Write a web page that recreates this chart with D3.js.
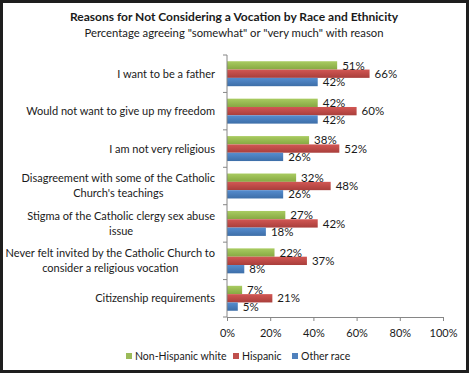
<!DOCTYPE html>
<html>
<head>
<meta charset="utf-8">
<script src="https://cdn.jsdelivr.net/npm/d3@7"></script>
<style>
  body { margin: 0; background: #fff; }
  text { font-family: Lato, "Open Sans", sans-serif; fill: #1a1a1a; }
</style>
</head>
<body>
<div id="chart-area"></div>
<script>
// data
let categories = [
  ["I want to be a father"],
  ["Would not want to give up my freedom"],
  ["I am not very religious"],
  ["Disagreement with some of the Catholic", "Church's teachings"],
  ["Stigma of the Catholic clergy sex abuse", "issue"],
  ["Never felt invited by the Catholic Church to", "consider a religious vocation"],
  ["Citizenship requirements"]
];
let seriesNames = ["Non-Hispanic white", "Hispanic", "Other race"];
let white    = [51, 42, 38, 32, 27, 22, 7];
let hispanic = [66, 60, 52, 48, 42, 37, 21];
let other    = [42, 42, 26, 26, 18, 8, 5];
let xTicks = [0, 20, 40, 60, 80, 100];

let colors = ["#9bbb59", "#c0504d", "#4f81bd"];
let darker = ["#86a842", "#a93e3b", "#3d6ea8"];

let W = 470, H = 374;
let m = {top: 55, right: 27, bottom: 57, left: 227};
let w = W - m.left - m.right;
let h = H - m.top - m.bottom;

let svg = d3.select("#chart-area")
    .append("svg")
    .attr("width", W)
    .attr("height", H);

// gradients like the excel bars
let defs = svg.append("defs");
colors.forEach(function(c, i) {
  let gr = defs.append("linearGradient")
      .attr("id", "grad" + i)
      .attr("x1", 0).attr("y1", 0).attr("x2", 0).attr("y2", 1);
  gr.append("stop").attr("offset", "0%").attr("stop-color", d3.color(c).brighter(0.25));
  gr.append("stop").attr("offset", "100%").attr("stop-color", darker[i]);
});

// frame
svg.append("rect")
    .attr("x", 1.5).attr("y", 1.5)
    .attr("width", W - 4).attr("height", H - 4)
    .attr("fill", "none")
    .attr("stroke", "#1e1e1e")
    .attr("stroke-width", 3);

// titles
svg.append("text")
    .attr("x", 234).attr("y", 21)
    .attr("text-anchor", "middle")
    .attr("font-size", "12px")
    .attr("font-weight", "bold")
    .text("Reasons for Not Considering a Vocation by Race and Ethnicity");
svg.append("text")
    .attr("x", 234).attr("y", 37)
    .attr("text-anchor", "middle")
    .attr("font-size", "11.3px")
    .text("Percentage agreeing \"somewhat\" or \"very much\" with reason");

let g = svg.append("g")
    .attr("transform", "translate(" + m.left + "," + m.top + ")");

// scales
let x = d3.scaleLinear().domain([0, 100]).range([0, w]);
let y = d3.scaleBand()
    .domain(d3.range(categories.length))
    .range([0, h]);
let ys = d3.scaleBand()
    .domain(d3.range(seriesNames.length))
    .range([0, y.bandwidth()])
    .paddingInner(0)
    .paddingOuter(0.75);

let series = [white, hispanic, other];
let rows = [];
categories.forEach(function(c, i) {
  series.forEach(function(s, j) {
    rows.push({cat: i, ser: j, value: s[i]});
  });
});

// bars
g.selectAll("rect.bar")
    .data(rows)
    .enter()
    .append("rect")
      .attr("class", "bar")
      .attr("x", 0)
      .attr("y", function(d) { return y(d.cat) + ys(d.ser); })
      .attr("width", function(d) { return x(d.value); })
      .attr("height", ys.bandwidth())
      .attr("fill", function(d) { return "url(#grad" + d.ser + ")"; });

// value labels
g.selectAll("text.val")
    .data(rows)
    .enter()
    .append("text")
      .attr("class", "val")
      .attr("x", function(d) { return x(d.value) + 5; })
      .attr("y", function(d) { return y(d.cat) + ys(d.ser) + ys.bandwidth() / 2; })
      .attr("dy", "0.36em")
      .attr("font-size", "11.5px")
      .attr("fill", "#333")
      .text(function(d) { return d.value + "%"; });

// x axis
let xAxisCall = d3.axisBottom(x)
    .tickValues(xTicks)
    .tickSize(4)
    .tickFormat(function(d) { return d + "%"; });
let xg = g.append("g")
    .attr("transform", "translate(0," + h + ")")
    .call(xAxisCall);
xg.select(".domain").attr("stroke", "#868686");
xg.selectAll(".tick line").attr("stroke", "#868686");
xg.selectAll(".tick text")
    .attr("font-size", "11px")
    .attr("font-family", "Lato, sans-serif")
    .attr("fill", "#1a1a1a")
    .attr("dy", "1.2em");

// y axis (category separators)
g.append("line")
    .attr("x1", 0).attr("x2", 0)
    .attr("y1", 0).attr("y2", h)
    .attr("stroke", "#868686");
g.selectAll("line.ytick")
    .data(d3.range(categories.length + 1))
    .enter()
    .append("line")
      .attr("class", "ytick")
      .attr("x1", -4).attr("x2", 0)
      .attr("y1", function(d) { return d * y.step(); })
      .attr("y2", function(d) { return d * y.step(); })
      .attr("stroke", "#868686");

// category labels, lines centred on each other, right edge at axis
let lblRight = -12;
categories.forEach(function(lines, i) {
  let t = g.append("text")
      .attr("font-size", "11px")
      .attr("text-anchor", "middle");
  let cy = y(i) + y.bandwidth() / 2 - (lines.length - 1) * 15 / 2;
  lines.forEach(function(l, k) {
    t.append("tspan")
      .attr("y", cy + k * 15)
      .attr("dy", "0.36em")
      .text(l);
  });
  let maxW = 0;
  t.selectAll("tspan").each(function() {
    maxW = Math.max(maxW, this.getComputedTextLength());
  });
  t.selectAll("tspan").attr("x", lblRight - maxW / 2);
});

// legend
let legendX = [126, 233, 292];
let lg = svg.selectAll("g.legend")
    .data(seriesNames)
    .enter()
    .append("g")
      .attr("class", "legend")
      .attr("transform", function(d, i) { return "translate(" + legendX[i] + ",356)"; });
lg.append("rect")
    .attr("x", 0).attr("y", -3)
    .attr("width", 6).attr("height", 6)
    .attr("fill", function(d, i) { return colors[i]; });
lg.append("text")
    .attr("x", 9)
    .attr("dy", "0.36em")
    .attr("font-size", "10.5px")
    .text(function(d) { return d; });
</script>
</body>
</html>
